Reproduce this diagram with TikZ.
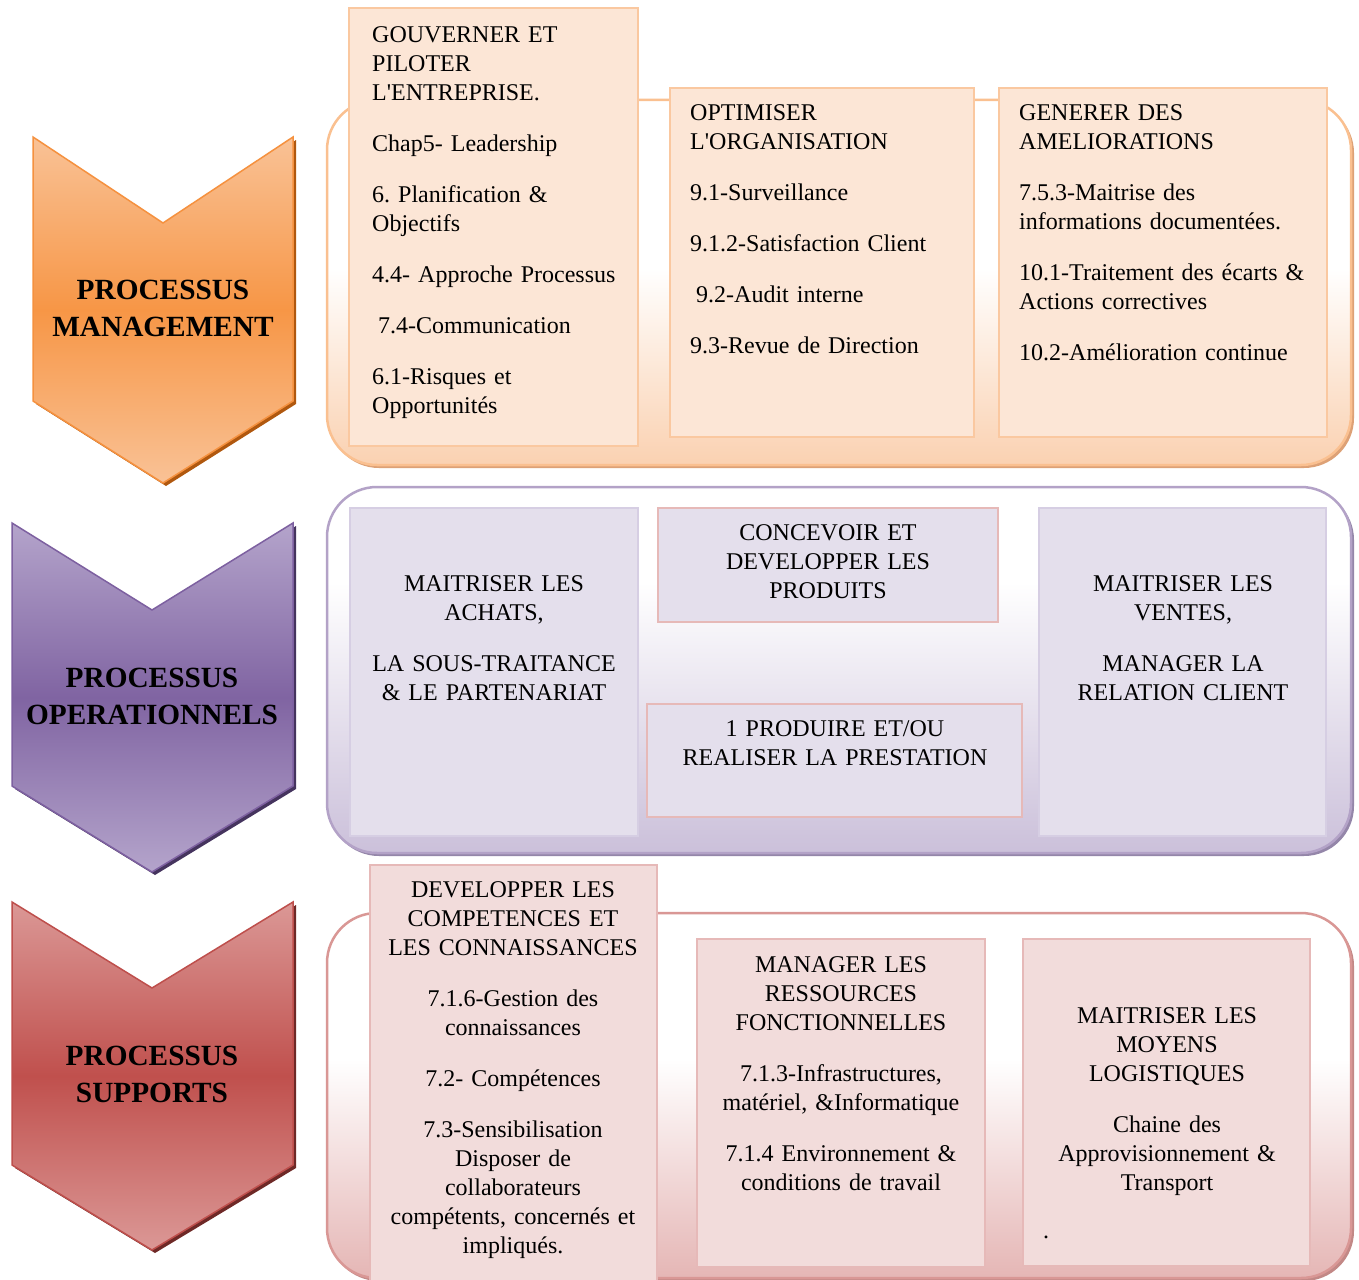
\documentclass[tikz,border=0pt]{standalone}
\usepackage{fontspec}
\setmainfont{Liberation Serif}
\frenchspacing

% chevrons
\definecolor{orTop}{HTML}{F9C296}
\definecolor{orMid}{HTML}{F79646}
\definecolor{orLine}{HTML}{F5913F}
\definecolor{orShadow}{HTML}{B0580F}
\definecolor{puTop}{HTML}{B4A4CB}
\definecolor{puMid}{HTML}{8064A2}
\definecolor{puLine}{HTML}{7D60A0}
\definecolor{puShadow}{HTML}{45345E}
\definecolor{reTop}{HTML}{DB9896}
\definecolor{reMid}{HTML}{C0504D}
\definecolor{reLine}{HTML}{BE4F4C}
\definecolor{reShadow}{HTML}{6E2927}
% panels
\definecolor{mgBot}{HTML}{FAD1B1}
\definecolor{mgLine}{HTML}{FAC090}
\definecolor{mgShadow}{HTML}{DDA176}
\definecolor{opBot}{HTML}{CBC0DA}
\definecolor{opLine}{HTML}{B3A2C7}
\definecolor{opShadow}{HTML}{9486A9}
\definecolor{suBot}{HTML}{E5B6B5}
\definecolor{suLine}{HTML}{D99795}
\definecolor{suShadow}{HTML}{C28886}
% boxes
\definecolor{mgBox}{HTML}{FCE6D6}
\definecolor{mgBoxLine}{HTML}{FAC8A0}
\definecolor{opBox}{HTML}{E4DFEC}
\definecolor{opBoxLine}{HTML}{D6CEE3}
\definecolor{pinkLine}{HTML}{E6B9B8}
\definecolor{suBox}{HTML}{F2DCDB}

\pgfdeclareverticalshading{mgmtshade}{100bp}{color(0bp)=(mgBot); color(25bp)=(mgBot); color(52bp)=(white); color(100bp)=(white)}
\pgfdeclareverticalshading{opershade}{100bp}{color(0bp)=(opBot); color(25bp)=(opBot); color(62bp)=(white); color(100bp)=(white)}
\pgfdeclareverticalshading{suppshade}{100bp}{color(0bp)=(suBot); color(25bp)=(suBot); color(55bp)=(white); color(100bp)=(white)}

\newcommand\apos{\textquotesingle}

\begin{document}
\begin{tikzpicture}[x=1pt,y=-1pt,
  txt/.style={font=\fontsize{24}{29}\selectfont, inner sep=0pt, anchor=north west, align=left, text width=320pt},
  ctxt/.style={font=\fontsize{24}{29}\selectfont, inner sep=0pt, anchor=north, align=center, text width=320pt},
  chevtxt/.style={font=\fontsize{29.3}{36.5}\selectfont\bfseries, inner sep=0pt, anchor=north, align=center, text width=300pt},
  panel/.style={line width=2.5pt, rounded corners=50pt},
  mbox/.style={fill=mgBox, draw=mgBoxLine, line width=2.5pt},
  obox/.style={fill=opBox, draw=opBoxLine, line width=2pt},
  pbox/.style={fill=opBox, draw=pinkLine, line width=2pt},
  sbox/.style={fill=suBox, draw=pinkLine, line width=2pt},
]
\useasboundingbox (0,0) rectangle (1359,1279);
\fill[white] (0,0) rectangle (1359,1279);

% ---------- chevrons ----------
\fill[orShadow, shift={(3,3)}] (33,137) -- (163,223) -- (293,137) -- (293,401) -- (163,483) -- (33,401) -- cycle;
\draw[draw=orLine, line width=1.5pt, top color=orTop, bottom color=orTop, middle color=orMid]
  (33,137) -- (163,223) -- (293,137) -- (293,401) -- (163,483) -- (33,401) -- cycle;
\node[chevtxt] (chmgmt) at (163,274) {\strut PROCESSUS\\MANAGEMENT};

\fill[puShadow, shift={(3,3)}] (12,523) -- (152,610) -- (293,523) -- (293,786) -- (152,872) -- (12,786) -- cycle;
\draw[draw=puLine, line width=1.5pt, top color=puTop, bottom color=puTop, middle color=puMid]
  (12,523) -- (152,610) -- (293,523) -- (293,786) -- (152,872) -- (12,786) -- cycle;
\node[chevtxt] (choper) at (152,662) {\strut PROCESSUS\\OPERATIONNELS};

\fill[reShadow, shift={(3,3)}] (12,902) -- (152,988) -- (293,902) -- (293,1165) -- (152,1250) -- (12,1165) -- cycle;
\draw[draw=reLine, line width=1.5pt, top color=reTop, bottom color=reTop, middle color=reMid]
  (12,902) -- (152,988) -- (293,902) -- (293,1165) -- (152,1250) -- (12,1165) -- cycle;
\node[chevtxt] (chsupp) at (152,1040) {\strut PROCESSUS\\SUPPORTS};

% ---------- management panel ----------
\fill[mgShadow, rounded corners=50pt] (329,103) rectangle (1354,468);
\shadedraw[panel, shading=mgmtshade, draw=mgLine] (327,100) rectangle (1351,465);
\draw[mbox] (349,8) rectangle (638,446);
\draw[mbox] (670,88) rectangle (974,437);
\draw[mbox] (999,88) rectangle (1327,437);

\node[txt] (gouv) at (372,22.2) {\strut GOUVERNER ET\\PILOTER\\L\apos ENTREPRISE.\\[22pt]
  Chap5- Leadership\\[22pt]
  6. Planification \&\\Objectifs\\[22pt]
  4.4- Approche Processus\\[22pt]
  \hspace*{6pt}7.4-Communication\\[22pt]
  6.1-Risques et\\Opportunités};

\node[txt] (optim) at (690,99.7) {\strut OPTIMISER\\L\apos ORGANISATION\\[22pt]
  9.1-Surveillance\\[22pt]
  9.1.2-Satisfaction Client\\[22pt]
  \hspace*{6pt}9.2-Audit interne\\[22pt]
  9.3-Revue de Direction};

\node[txt] (amelio) at (1019,99.7) {\strut GENERER DES\\AMELIORATIONS\\[22pt]
  7.5.3-Maitrise des\\informations documentées.\\[22pt]
  10.1-Traitement des écarts \&\\Actions correctives\\[22pt]
  10.2-Amélioration continue};

% ---------- operational panel ----------
\fill[opShadow, rounded corners=50pt] (329,490) rectangle (1354,856);
\shadedraw[panel, shading=opershade, draw=opLine] (327,487) rectangle (1351,853);
\draw[obox] (350,508) rectangle (638,836);
\draw[pbox] (658,508) rectangle (998,622);
\draw[pbox] (647,704) rectangle (1022,817);
\draw[obox] (1039,508) rectangle (1326,836);

\node[ctxt] (achats) at (494,570.7) {\strut MAITRISER LES\\ACHATS,\\[22pt]
  LA SOUS-TRAITANCE\\\& LE PARTENARIAT};
\node[ctxt] (concev) at (828,519.7) {\strut CONCEVOIR ET\\DEVELOPPER LES\\PRODUITS};
\node[ctxt] (produi) at (835,715.7) {\strut 1 PRODUIRE ET/OU\\REALISER LA PRESTATION};
\node[ctxt] (ventes) at (1183,570.7) {\strut MAITRISER LES\\VENTES,\\[22pt]
  MANAGER LA\\RELATION CLIENT};

% ---------- support panel ----------
\fill[suShadow, rounded corners=50pt] (329,916) rectangle (1354,1281);
\shadedraw[panel, shading=suppshade, draw=suLine] (327,913) rectangle (1351,1278);
\draw[sbox] (370,865) rectangle (657,1285);
\draw[sbox] (697,939) rectangle (985,1267);
\draw[sbox] (1023,939) rectangle (1310,1266);

\node[ctxt] (compet) at (513,876.7) {\strut DEVELOPPER LES\\COMPETENCES ET\\LES CONNAISSANCES\\[22pt]
  7.1.6-Gestion des\\connaissances\\[22pt]
  7.2- Compétences\\[22pt]
  7.3-Sensibilisation\\Disposer de\\collaborateurs\\compétents, concernés et\\impliqués.};
\node[ctxt] (ressou) at (841,951.7) {\strut MANAGER LES\\RESSOURCES\\FONCTIONNELLES\\[22pt]
  7.1.3-Infrastructures,\\matériel, \&Informatique\\[22pt]
  7.1.4 Environnement \&\\conditions de travail};
\node[ctxt] (logist) at (1167,1002.7) {\strut MAITRISER LES\\MOYENS\\LOGISTIQUES\\[22pt]
  Chaine des\\Approvisionnement \&\\Transport};
\node[font=\fontsize{24}{29}\selectfont, inner sep=0pt, anchor=base] (dot) at (1046,1238) {.};
\end{tikzpicture}
\end{document}
